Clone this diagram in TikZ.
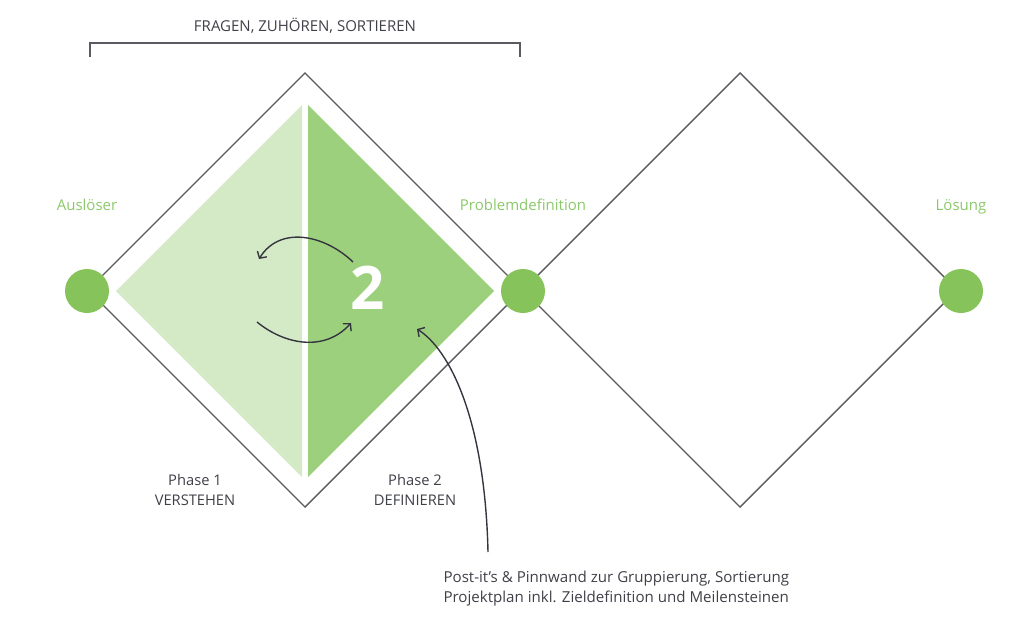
\documentclass[tikz,border=0pt]{standalone}
\usepackage{fontspec}
\setmainfont{Open Sans}
\usetikzlibrary{
  arrows.meta,
  positioning,  % Function "of" (e.g. [above=of x])
  calc
}
\definecolor{lightgreen}{HTML}{D4EAC7}
\definecolor{midgreen}{HTML}{9DD07D}
\definecolor{dotgreen}{HTML}{86C35A}
\definecolor{labelgreen}{HTML}{8CC86A}
\definecolor{linegray}{HTML}{5A5A60}
\definecolor{textgray}{HTML}{404048}
\definecolor{arrowgray}{HTML}{35353F}
\tikzset{
  >={Straight Barb[length=5pt,width=11pt]},
  diamond line/.style={
    draw=linegray,
    line width=1.4pt,
    line join=miter
  },
  milestone/.style={
    circle,
    fill=dotgreen,
    minimum size=44pt,
    inner sep=0pt
  },
  milestone label/.style={
    text=labelgreen,
    anchor=base,
    font=\fontsize{15}{18}\selectfont
  },
  phase label/.style={
    text=textgray,
    align=center,
    font=\fontsize{14.7}{20}\selectfont
  },
  loop arrow/.style={
    ->,
    draw=arrowgray,
    line width=1.4pt
  }
}

\begin{document}
\begin{tikzpicture}[x=1pt,y=-1pt]
\useasboundingbox (0,0) rectangle (1024,634);
% diamonds and halves
\draw[diamond line] (305,73) -- (522,290) -- (305,507) -- (88,290) -- cycle;
\draw[diamond line] (740,73) -- (957,290) -- (740,507) -- (523,290) -- cycle;
\fill[lightgreen] (302,105) -- (302,477) -- (116,291) -- cycle;
\fill[midgreen] (308,105) -- (494,291) -- (308,477) -- cycle;
% milestones
\node[milestone] (ausloeser) at (87,291) {};
\node[milestone] (problem) at (523,291) {};
\node[milestone] (loesung) at (961,291) {};
\node[above=58pt of ausloeser, milestone label] (ausloeser label) {Auslöser};
\node[above=58pt of problem, milestone label] (problem label) {Problemdefinition};
\node[above=58pt of loesung, milestone label] (loesung label) {Lösung};
% bracket
\node[text=textgray, font=\fontsize{15}{18}\selectfont] (bracket label) at (305,26) {FRAGEN, ZUHÖREN, SORTIEREN};
\coordinate (bracket left) at (90,57);
\coordinate (bracket right) at (520,57);
\draw[draw=linegray, line width=1.2pt] (bracket left) |- ($(bracket right)+(0,-14)$) -- (bracket right);
% phases
\node[phase label] (phase one) at (195,490) {Phase 1\\VERSTEHEN};
\node[phase label] (phase two) at (415,490) {Phase 2\\DEFINIEREN};
\node[text=white, font=\fontsize{60}{60}\selectfont\bfseries] (two) at (368,288) {2};
% loop arrows
\coordinate (loop a start) at (353,262);
\coordinate (loop a end) at (259,259);
\coordinate (loop b start) at (257,322);
\coordinate (loop b end) at (351,323);
\draw[loop arrow] (loop a start) .. controls (325,235) and (280,225) .. (loop a end);
\draw[loop arrow] (loop b start) .. controls (285,345) and (325,352) .. (loop b end);
% note
\node[anchor=north west, align=left, text=textgray, font=\fontsize{15.1}{20}\selectfont] (note) at (440,567)
  {Post-it’s \& Pinnwand zur Gruppierung, Sortierung\\Projektplan inkl. Zieldefinition und Meilensteinen};
\coordinate (note start) at (488,552);
\coordinate (note end) at (417,329);
\draw[loop arrow] (note start) .. controls (485,420) and (450,350) .. (note end);
\end{tikzpicture}
\end{document}
